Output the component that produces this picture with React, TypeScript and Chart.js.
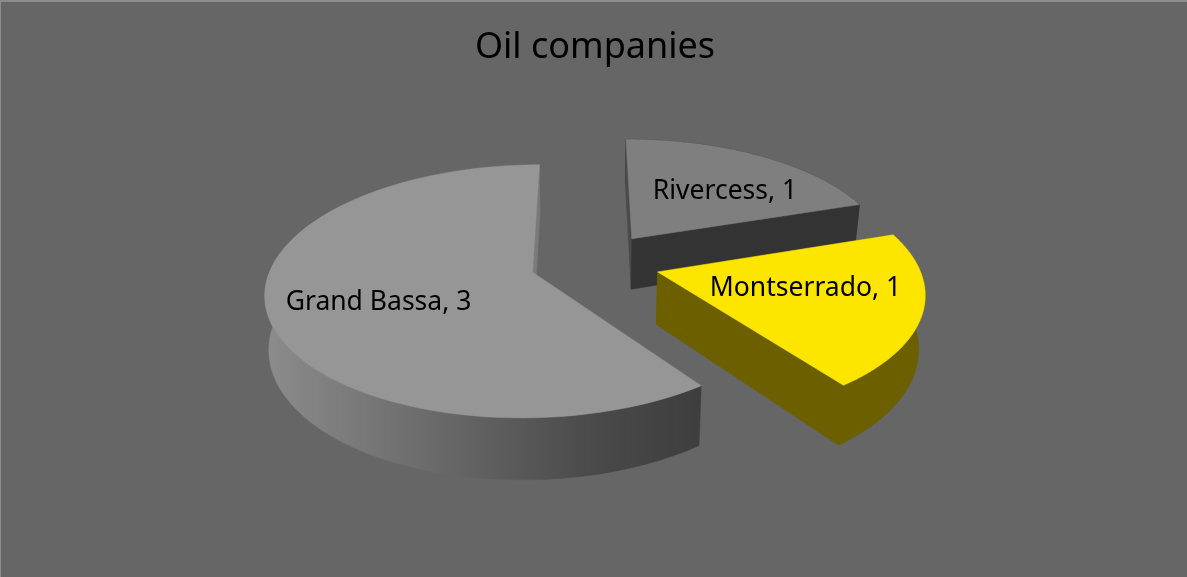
import React, { useEffect, useRef } from "react";
import { Chart, registerables } from "chart.js";

Chart.register(...registerables);

const categories = ["Rivercess", "Montserrado", "Grand Bassa"];
const values = [1, 1, 3];
const topColors = ["#7f7f7f", "#fce600", "#969696"];
const wallColors = ["#333333", "#6b5f00", "#555555"];
const nearFaceColors = ["#4a4a4a", "#6b5f00", "#7a7a7a"];
const labelNudgeX = [13, -8.5, 2];
const labelNudgeY = [4.5, -7, 6.5];
const titleText = "Oil companies";

const FONT = '"Noto Sans", "Open Sans", sans-serif';
const BG = "#666666";
const RADIUS = 260;
const EXPLODE = 65;
const TILT = 0.4648;
const VIEW_DIST = 1745;
const DEPTH = 52;
const BASE_SHRINK_LEFT = 0.988;
const BASE_SHRINK_RIGHT = 0.98;
const LABEL_FRAC = 0.6;

type Pt = { x: number; y: number };

const pie3d = {
  id: "pie3d",
  beforeDraw(chart: any) {
    const { ctx, width, height } = chart;
    ctx.save();
    ctx.fillStyle = BG;
    ctx.fillRect(0, 0, width, height);
    ctx.fillStyle = "#8c8c8c";
    ctx.fillRect(0, 0, width, 2);
    ctx.fillRect(0, 0, 1, height);
    ctx.restore();
  },
  beforeDatasetsDraw(chart: any) {
    const { ctx } = chart;
    const arcs = chart.getDatasetMeta(0).data;
    const project = (cx: number, cy: number, X: number, Y: number) => {
      const p = 1 / (1 - Y / VIEW_DIST);
      const top = { x: cx + X * p, y: cy + Y * TILT * p };
      const shrink = top.x < cx ? BASE_SHRINK_LEFT : BASE_SHRINK_RIGHT;
      const base = { x: cx + (top.x - cx) * shrink, y: top.y + DEPTH * p };
      return { top, base };
    };
    const poly = (pts: Pt[], fill: string | CanvasGradient) => {
      ctx.beginPath();
      pts.forEach((q, i) => (i ? ctx.lineTo(q.x, q.y) : ctx.moveTo(q.x, q.y)));
      ctx.closePath();
      ctx.fillStyle = fill;
      ctx.fill();
      ctx.strokeStyle = fill;
      ctx.lineWidth = 0.5;
      ctx.stroke();
    };
    ctx.save();
    [0, 1, 2].forEach((i) => {
      const a = arcs[i].getProps(["x", "y", "startAngle", "endAngle"]);
      const mid = (a.startAngle + a.endAngle) / 2;
      const ox = EXPLODE * Math.cos(mid);
      const oy = EXPLODE * Math.sin(mid);
      const steps = 120;
      const rim = [];
      for (let s = 0; s <= steps; s++) {
        const t = a.startAngle + ((a.endAngle - a.startAngle) * s) / steps;
        rim.push(project(a.x, a.y, ox + RADIUS * Math.cos(t), oy + RADIUS * Math.sin(t)));
      }
      const tip = project(a.x, a.y, ox, oy);
      const first = rim[0];
      const last = rim[rim.length - 1];
      let wallFill: string | CanvasGradient = wallColors[i];
      if (i === 2) {
        const g = ctx.createLinearGradient(265, 0, 700, 0);
        g.addColorStop(0, "#8c8c8c");
        g.addColorStop(0.42, "#676767");
        g.addColorStop(0.75, "#4a4a4a");
        g.addColorStop(1, "#3e3e3e");
        wallFill = g;
      }
      poly([...rim.map((r) => r.top), ...rim.map((r) => r.base).reverse()], wallFill);
      const endFace = [tip.top, last.top, last.base, tip.base];
      const startFace = [tip.top, first.top, first.base, tip.base];
      if (i === 2) {
        poly(endFace, nearFaceColors[i]);
      } else {
        poly(startFace, nearFaceColors[i]);
        poly(endFace, wallColors[i]);
      }
      poly([tip.top, ...rim.map((r) => r.top)], topColors[i]);
    });
    ctx.restore();
    return false;
  },
  afterDraw(chart: any) {
    const { ctx } = chart;
    const arcs = chart.getDatasetMeta(0).data;
    ctx.save();
    ctx.fillStyle = "#000";
    ctx.textAlign = "center";
    ctx.textBaseline = "middle";
    ctx.font = `26.5px ${FONT}`;
    [0, 1, 2].forEach((i) => {
      const a = arcs[i].getProps(["x", "y", "startAngle", "endAngle"]);
      const mid = (a.startAngle + a.endAngle) / 2;
      const X = (EXPLODE + RADIUS * LABEL_FRAC) * Math.cos(mid);
      const Y = (EXPLODE + RADIUS * LABEL_FRAC) * Math.sin(mid);
      const p = 1 / (1 - Y / VIEW_DIST);
      ctx.fillText(
        `${categories[i]}, ${values[i]}`,
        a.x + X * p + labelNudgeX[i],
        a.y + Y * TILT * p + labelNudgeY[i]
      );
    });
    ctx.restore();
  },
};

export default function App() {
  const ref = useRef<HTMLCanvasElement | null>(null);
  useEffect(() => {
    document.body.style.margin = "0";
    const chart = new Chart(ref.current as HTMLCanvasElement, {
      type: "pie",
      data: {
        labels: categories,
        datasets: [{ data: values, backgroundColor: topColors, borderWidth: 0, offset: 30 }],
      },
      options: {
        responsive: false,
        animation: false,
        events: [],
        rotation: -0.3,
        layout: { padding: { left: 3, right: 0, top: 0, bottom: 141 } },
        plugins: {
          legend: { display: false },
          tooltip: { enabled: false },
          title: {
            display: true,
            text: titleText,
            color: "#000",
            font: { family: FONT, size: 36, weight: "normal" },
            padding: { top: 26, bottom: 20 },
          },
        },
      },
      plugins: [pie3d],
    } as any);
    return () => chart.destroy();
  }, []);
  return <canvas ref={ref} width={1187} height={577} style={{ display: "block" }} />;
}
